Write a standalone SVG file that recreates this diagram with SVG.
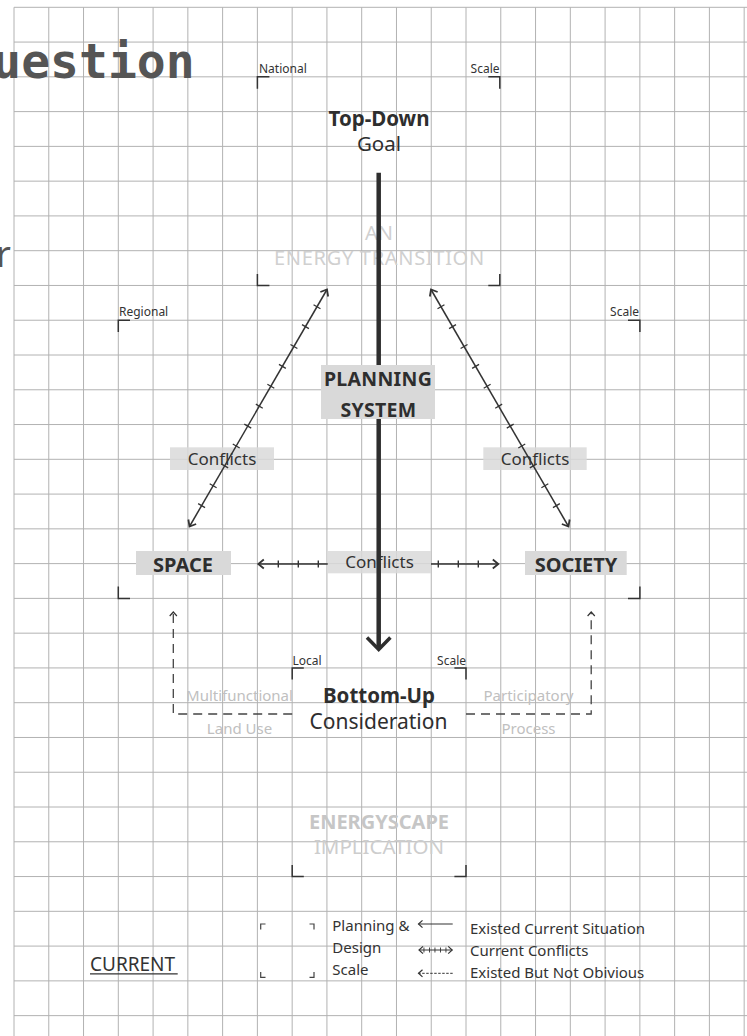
<svg xmlns="http://www.w3.org/2000/svg" width="747" height="1036" viewBox="0 0 747 1036">
<style>
.grid{stroke:#b2b2b2;stroke-width:1;fill:none}
.t{font-family:"Noto Sans","DejaVu Sans",sans-serif}
.dk{fill:#2e2e2e}
.lbl{font-size:12px;fill:#333}
.br{stroke:#333;stroke-width:1.5;fill:none}
.brs{stroke:#444;stroke-width:1.2;fill:none}
.box{fill:#d9d9d9}
.conf{fill:#d9d9d9;fill-opacity:0.85}
.ln{stroke:#333;stroke-width:1.5;fill:none}
.tick{stroke:#333;stroke-width:8;stroke-dasharray:1.3 21.7;fill:none}
.htick{stroke:#333;stroke-width:7;stroke-dasharray:1.4 18.6;fill:none}
.dash{stroke:#444;stroke-width:1.3;fill:none;stroke-dasharray:9 6}
.ghost{fill:#d0d0d0}
.faint{fill:#c0c0c0}
.leg{font-size:15px;fill:#333}
</style>
<defs>
<marker id="chev" viewBox="-8 -6 10 12" refX="0" refY="0" markerWidth="10" markerHeight="12" markerUnits="userSpaceOnUse" orient="auto-start-reverse">
<path d="M-5.5,-4.5 L0,0 L-5.5,4.5" fill="none" stroke="#333" stroke-width="1.8"/>
</marker>
<marker id="chevS" viewBox="-6 -5 8 10" refX="0" refY="0" markerWidth="8" markerHeight="10" markerUnits="userSpaceOnUse" orient="auto-start-reverse">
<path d="M-4,-3.6 L0,0 L-4,3.6" fill="none" stroke="#333" stroke-width="1.2"/>
</marker>
</defs>
<rect width="747" height="1036" fill="#fff"/>
<g id="grid">
<path class="grid" d="M14,7.3V1036M48.77,7.3V1036M83.54,7.3V1036M118.31,7.3V1036M153.08,7.3V1036M187.85,7.3V1036M222.62,7.3V1036M257.39,7.3V1036M292.16,7.3V1036M326.93,7.3V1036M361.7,7.3V1036M396.47,7.3V1036M431.24,7.3V1036M466.01,7.3V1036M500.78,7.3V1036M535.55,7.3V1036M570.32,7.3V1036M605.09,7.3V1036M639.86,7.3V1036M674.63,7.3V1036M709.4,7.3V1036M744.17,7.3V1036"/>
<path class="grid" d="M14,7.3H747M14,42.07H747M14,76.84H747M14,111.61H747M14,146.38H747M14,181.15H747M14,215.92H747M14,250.69H747M14,285.46H747M14,320.23H747M14,355H747M14,389.77H747M14,424.54H747M14,459.31H747M14,494.08H747M14,528.85H747M14,563.62H747M14,598.39H747M14,633.16H747M14,667.93H747M14,702.7H747M14,737.47H747M14,772.24H747M14,807.01H747M14,841.78H747M14,876.55H747M14,911.32H747M14,946.09H747M14,980.86H747M14,1015.63H747"/>
</g>
<g id="title">
<text x="-7.7" y="78.3" font-family="DejaVu Sans Mono, monospace" font-weight="bold" font-size="48" fill="#555">uestion</text>
<text class="t" x="-4" y="267" font-size="36" fill="#555">r</text>
</g>
<g id="national-scale" class="t">
<path class="br" d="M257.4,88.8V76.8H269.4M488.3,76.8H499.8V88.8M257.4,274V285.5H269.4M488.3,285.5H499.8V274"/>
<text class="lbl" x="259" y="73.3">National</text>
<text class="lbl" x="499.5" y="73.3" text-anchor="end">Scale</text>
<text class="ghost" x="379" y="240" font-size="20" text-anchor="middle">AN</text>
<text class="ghost" x="379.4" y="265" font-size="20" letter-spacing="0.7" text-anchor="middle">ENERGY TRANSITION</text>
</g>
<g id="top-down" class="t">
<text class="dk" x="379" y="126" font-size="20.5" font-weight="bold" text-anchor="middle">Top-Down</text>
<text class="dk" x="379" y="151" font-size="20.5" text-anchor="middle">Goal</text>
</g>
<g id="regional-scale" class="t">
<path class="br" d="M118.3,332V320.2H130M628,320.2H639.9V332M118.3,586.5V598.4H130M628,598.4H639.9V586.5"/>
<text class="lbl" x="119" y="316">Regional</text>
<text class="lbl" x="639" y="316" text-anchor="end">Scale</text>
</g>
<g id="conflicts-left" class="t">
<rect class="conf" x="170" y="447.3" width="104" height="22.7"/>
<text x="222" y="465" font-size="17" fill="#333" text-anchor="middle">Conflicts</text>
</g>
<g id="conflicts-right" class="t">
<rect class="conf" x="483.3" y="447.3" width="103.4" height="22.7"/>
<text x="535" y="465" font-size="17" fill="#333" text-anchor="middle">Conflicts</text>
</g>
<g id="space" class="t">
<rect class="box" x="136" y="551" width="95" height="24"/>
<text class="dk" x="183" y="571.7" font-size="20" font-weight="bold" text-anchor="middle">SPACE</text>
</g>
<g id="society" class="t">
<rect class="box" x="525" y="551" width="101.7" height="24"/>
<text class="dk" x="576" y="571.7" font-size="20" font-weight="bold" text-anchor="middle">SOCIETY</text>
</g>
<g id="conflicts-center" class="t">
<rect class="conf" x="327.7" y="551" width="103.3" height="22.3"/>
<text x="379.5" y="568.3" font-size="17" fill="#333" text-anchor="middle">Conflicts</text>
</g>
<g id="local-scale" class="t">
<path class="br" d="M292.2,679.5V667.9H303.8M454.4,667.9H466V679.5"/>
<text class="lbl" x="292.5" y="664.5">Local</text>
<text class="lbl" x="466" y="664.5" text-anchor="end">Scale</text>
<text class="dk" x="379" y="703.3" font-size="20.5" font-weight="bold" text-anchor="middle">Bottom-Up</text>
<text class="dk" x="378.5" y="729" font-size="21" text-anchor="middle">Consideration</text>
</g>
<g id="multifunctional-land-use" class="t">
<text class="faint" x="239.5" y="700.7" font-size="15" text-anchor="middle">Multifunctional</text>
<text class="faint" x="239.5" y="734" font-size="15" text-anchor="middle">Land Use</text>
</g>
<g id="participatory-process" class="t">
<text class="faint" x="528.5" y="700.7" font-size="15" text-anchor="middle">Participatory</text>
<text class="faint" x="528.5" y="734" font-size="15" text-anchor="middle">Process</text>
</g>
<g id="energyscape-implication" class="t">
<path class="br" d="M292.2,865V876.6H303.8M454.4,876.6H466V865"/>
<text x="379" y="829.3" font-size="20" font-weight="bold" fill="#c6c6c6" text-anchor="middle">ENERGYSCAPE</text>
<text x="379" y="854" font-size="20.5" fill="#cdcdcd" text-anchor="middle">IMPLICATION</text>
</g>
<g id="legend" class="t">
<path class="brs" d="M260.7,929.5V924H265.5M309.5,924H314V929.5M260.7,972V977.3H265.5M309.5,977.3H314V972"/>
<text class="leg" x="332.3" y="930.7" font-size="14.5">Planning &amp;</text>
<text class="leg" x="332.3" y="952.7" font-size="14.5">Design</text>
<text class="leg" x="332.3" y="975" font-size="14.5">Scale</text>
<path d="M452.7,924H418.5" stroke="#333" stroke-width="1.2" fill="none" marker-end="url(#chevS)"/>
<path d="M419,950H452.2" stroke="#333" stroke-width="1" fill="none" marker-start="url(#chevS)" marker-end="url(#chevS)"/>
<path d="M423.5,950H449" stroke="#333" stroke-width="5" stroke-dasharray="0.9 4.6" fill="none"/>
<path d="M452.7,973.3H418.5" stroke="#333" stroke-width="1" stroke-dasharray="2.5 1.5" fill="none" marker-end="url(#chevS)"/>
<text class="leg" x="470" y="934">Existed Current Situation</text>
<text class="leg" x="470" y="956">Current Conflicts</text>
<text class="leg" x="470" y="978">Existed But Not Obivious</text>
<text x="90" y="970.7" font-size="19" fill="#333">CURRENT</text>
<path d="M90,973.8H177.7" stroke="#333" stroke-width="1.2"/>
</g>
<g id="connectors">
<path d="M378.7,172.7V648" stroke="#2e2e2e" stroke-width="4.5" fill="none"/>
<path d="M367,637.5L378.7,649.5L390.4,637.5" stroke="#2e2e2e" stroke-width="3.5" fill="none"/>
<path class="ln" d="M327,289.5L189.5,526.5" marker-start="url(#chev)" marker-end="url(#chev)"/>
<path class="tick" d="M317.34,306.15L200.55,507.48"/>
<path class="ln" d="M431,289.5L568.5,526.5" marker-start="url(#chev)" marker-end="url(#chev)"/>
<path class="tick" d="M440.66,306.15L557.45,507.48"/>
<path class="ln" d="M327.7,564H258.3" marker-end="url(#chev)"/>
<path class="htick" d="M277.6,564H326"/>
<path class="ln" d="M431,564H498.3" marker-end="url(#chev)"/>
<path class="htick" d="M437.6,564H486"/>
<path class="dash" d="M292.2,714H173.3V612" marker-end="url(#chevS)"/>
<path class="dash" d="M466,714H591.2V612" marker-end="url(#chevS)"/>
</g>
<g id="planning-system" class="t">
<rect class="box" x="321" y="365" width="114" height="54"/>
<text class="dk" x="378" y="385.7" font-size="19.5" font-weight="bold" letter-spacing="0.3" text-anchor="middle">PLANNING</text>
<text class="dk" x="378.5" y="416.7" font-size="19.5" font-weight="bold" letter-spacing="0.3" text-anchor="middle">SYSTEM</text>
</g>
</svg>
